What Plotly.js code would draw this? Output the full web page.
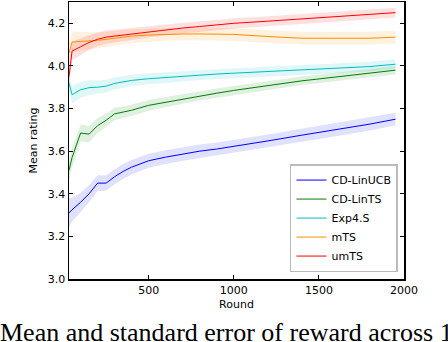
<!DOCTYPE html>
<html>
<head>
<meta charset="utf-8">
<script src="https://cdn.plot.ly/plotly-3.0.1.min.js"></script>
<style>
  html, body { margin: 0; padding: 0; background: #fff; }
  #chart { width: 448px; height: 342px; }
</style>
</head>
<body>
<div id="chart"></div>
<script>
const rounds = [32, 50, 100, 150, 200, 250, 300, 350, 400, 500, 600, 700, 800, 900, 1000, 1200, 1400, 1600, 1800, 1950];

const names = ['CD-LinUCB', 'CD-LinTS', 'Exp4.S', 'mTS', 'umTS'];

const linUcb = [3.31, 3.325, 3.36, 3.40, 3.45, 3.45, 3.48, 3.505, 3.525, 3.555, 3.572, 3.587, 3.60, 3.61, 3.622, 3.648, 3.675, 3.70, 3.727, 3.75];
const linTs = [3.51, 3.57, 3.685, 3.68, 3.72, 3.745, 3.775, 3.782, 3.792, 3.815, 3.83, 3.845, 3.86, 3.872, 3.885, 3.908, 3.93, 3.948, 3.966, 3.98];
const exp4s = [3.92, 3.865, 3.888, 3.898, 3.90, 3.905, 3.918, 3.925, 3.932, 3.94, 3.946, 3.952, 3.958, 3.962, 3.966, 3.973, 3.98, 3.989, 3.997, 4.008];
const mts = [4.06, 4.112, 4.115, 4.117, 4.12, 4.125, 4.13, 4.135, 4.14, 4.145, 4.148, 4.15, 4.15, 4.149, 4.148, 4.138, 4.13, 4.13, 4.13, 4.135];
const umts = [3.95, 4.07, 4.09, 4.11, 4.125, 4.135, 4.14, 4.145, 4.15, 4.16, 4.17, 4.178, 4.185, 4.192, 4.20, 4.21, 4.22, 4.23, 4.24, 4.25];

// standard error half widths
const linUcbErr = [0.07, 0.055, 0.045, 0.04, 0.037, 0.036, 0.035, 0.035, 0.034, 0.033, 0.032, 0.032, 0.031, 0.031, 0.03, 0.03, 0.03, 0.03, 0.03, 0.03];
const linTsErr = [0.05, 0.045, 0.04, 0.038, 0.035, 0.032, 0.03, 0.028, 0.027, 0.025, 0.024, 0.023, 0.022, 0.022, 0.021, 0.021, 0.02, 0.02, 0.02, 0.02];
const exp4sErr = [0.045, 0.04, 0.037, 0.035, 0.032, 0.03, 0.029, 0.028, 0.027, 0.026, 0.025, 0.025, 0.024, 0.024, 0.023, 0.023, 0.023, 0.023, 0.023, 0.023];
const mtsErr = [0.05, 0.05, 0.045, 0.04, 0.037, 0.035, 0.034, 0.033, 0.032, 0.031, 0.03, 0.03, 0.03, 0.03, 0.03, 0.03, 0.03, 0.03, 0.03, 0.03];
const umtsErr = [0.05, 0.045, 0.04, 0.035, 0.033, 0.031, 0.03, 0.029, 0.028, 0.027, 0.026, 0.025, 0.025, 0.024, 0.024, 0.023, 0.023, 0.023, 0.023, 0.023];

const means = [linUcb, linTs, exp4s, mts, umts];
const errs = [linUcbErr, linTsErr, exp4sErr, mtsErr, umtsErr];
const colors = ['#0000ff', '#008000', '#00bfbf', '#ff8c00', '#ff0000'];
const bands = ['rgba(0,0,255,0.12)', 'rgba(0,128,0,0.12)', 'rgba(0,191,191,0.12)', 'rgba(255,140,0,0.12)', 'rgba(255,0,0,0.12)'];

const font = 'DejaVu Sans, sans-serif';

let traces = [];
means.forEach((m, i) => {
  const upper = m.map((v, k) => v + errs[i][k]);
  const lower = m.map((v, k) => v - errs[i][k]);
  traces.push({
    type: 'scatter',
    x: rounds.concat(rounds.slice().reverse()),
    y: upper.concat(lower.slice().reverse()),
    fill: 'toself',
    fillcolor: bands[i],
    line: {width: 0},
    mode: 'lines',
    hoverinfo: 'skip',
    showlegend: false,
    legendgroup: names[i]
  });
});
means.forEach((m, i) => {
  traces.push({
    type: 'scatter',
    x: rounds,
    y: m,
    mode: 'lines',
    line: {color: colors[i], width: 1},
    name: names[i],
    legendgroup: names[i]
  });
});

const axis = {
  showline: true,
  linecolor: '#000',
  linewidth: 1.5,
  mirror: 'ticks',
  ticks: 'inside',
  ticklen: 4,
  tickwidth: 1,
  tickcolor: '#000',
  showgrid: false,
  zeroline: false,
  tickfont: {family: font, size: 11, color: '#000'}
};

const layout = {
  width: 448,
  height: 342,
  margin: {l: 69, r: 44, t: 2, b: 63},
  paper_bgcolor: '#fff',
  plot_bgcolor: '#fff',
  font: {family: font, size: 11, color: '#000'},
  xaxis: Object.assign({}, axis, {
    range: [32, 2000],
    tickvals: [500, 1000, 1500, 2000],
    title: {text: 'Round', font: {family: font, size: 11}, standoff: 4}
  }),
  yaxis: Object.assign({}, axis, {
    range: [3.0, 4.3],
    tickvals: [3.0, 3.2, 3.4, 3.6, 3.8, 4.0, 4.2],
    tickformat: '.1f',
    title: {text: 'Mean rating', font: {family: font, size: 11}, standoff: 8}
  }),
  legend: {
    x: 0.982,
    xanchor: 'right',
    y: 0.025,
    yanchor: 'bottom',
    bgcolor: '#fff',
    bordercolor: '#bbbbbb',
    borderwidth: 1.5,
    itemwidth: 30,
    tracegroupgap: 0,
    font: {family: font, size: 11, color: '#000'}
  },
  annotations: [{
    text: 'Mean and standard error of reward across 1',
    xref: 'paper',
    yref: 'paper',
    x: -0.212,
    y: -0.1325,
    xanchor: 'left',
    yanchor: 'top',
    showarrow: false,
    font: {family: 'Liberation Serif, serif', size: 26, color: '#000'}
  }]
};

Plotly.newPlot('chart', traces, layout, {displayModeBar: false, staticPlot: true});
</script>
</body>
</html>
